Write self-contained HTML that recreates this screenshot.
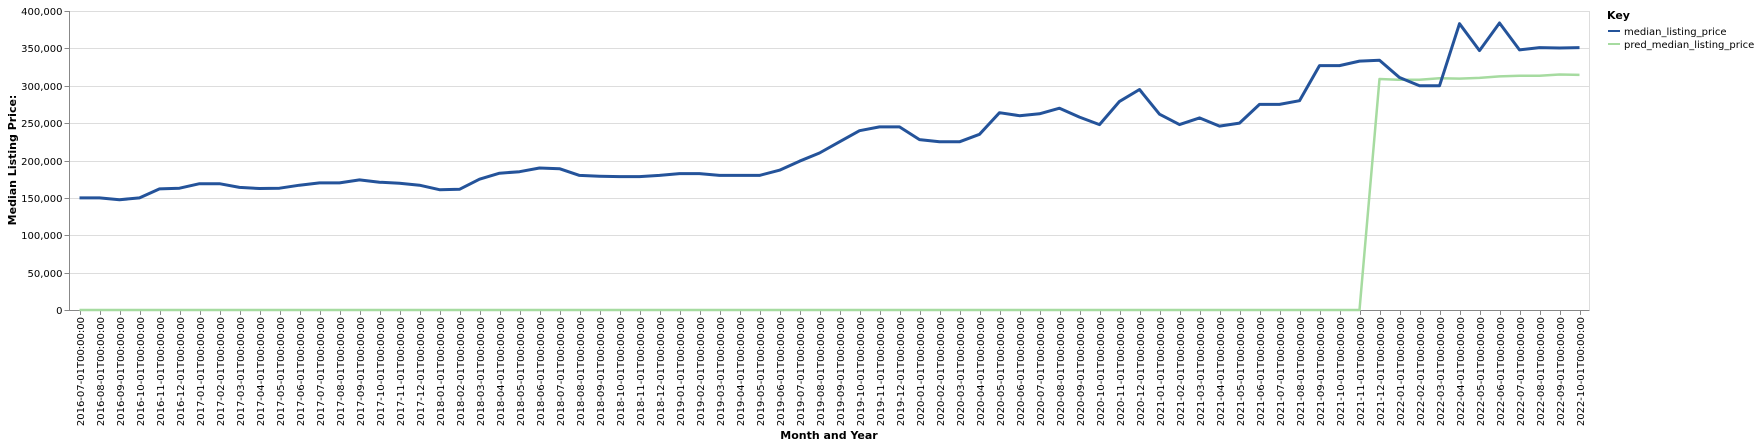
<!DOCTYPE html>
<html><head><meta charset="utf-8">
<style>
html,body{margin:0;padding:0;background:#fff;}
svg{display:block;font-family:"DejaVu Sans","Liberation Sans",sans-serif;}
</style></head>
<body>
<svg id="chart" width="1759" height="447" viewBox="0 0 1759 447" xmlns="http://www.w3.org/2000/svg">
<g id="grid"></g>
<g id="yaxis"></g>
<g id="xaxis"></g>
<g id="series"></g>
<text transform="translate(16,160) rotate(-90)" text-anchor="middle" font-size="11" font-weight="bold" fill="#000">Median Listing Price:</text>
<text x="829" y="439" text-anchor="middle" font-size="11" font-weight="bold" fill="#000">Month and Year</text>
<g>
<text x="1607" y="19" font-size="11" font-weight="bold" fill="#000">Key</text>
<g>
<line x1="1608" y1="31" x2="1620" y2="31" stroke="#24539a" stroke-width="2"/>
<text x="1624" y="35" font-size="10" fill="#000">median_listing_price</text></g>
<g>
<line x1="1608" y1="44" x2="1620" y2="44" stroke="#a6dba0" stroke-width="2"/>
<text x="1624" y="48" font-size="10" fill="#000">pred_median_listing_price</text></g>
</g>
</svg>
<script>
const months = [];
for (let y = 2016; y <= 2022; y++) for (let m = 1; m <= 12; m++) {
  if ((y === 2016 && m < 7) || (y === 2022 && m > 10)) continue;
  months.push(y + "-" + String(m).padStart(2, "0") + "-01T00:00:00");
}
const medianPrice = [150000,150000,147500,150000,162000,163000,
169000,169000,164000,162500,163000,167000,170000,170000,174000,171000,169500,167000,
161000,161500,175000,183000,185000,190000,189000,180000,179000,178500,178500,180000,
182500,182500,180000,180000,180000,187000,199000,210000,225000,239900,245000,244900,
228000,225000,225000,235000,264000,260000,262500,270000,258000,248000,279000,295000,
262000,248000,257000,246000,250000,275000,275000,280000,327000,327000,333000,334000,
311000,300000,300000,383000,347000,384000,348000,351000,350500,351000];
const predPrice = [0,0,0,0,0,0,
0,0,0,0,0,0,0,0,0,0,0,0,
0,0,0,0,0,0,0,0,0,0,0,0,
0,0,0,0,0,0,0,0,0,0,0,0,
0,0,0,0,0,0,0,0,0,0,0,0,
0,0,0,0,0,0,0,0,0,0,0,309000,
308000,308000,310000,309500,310500,312500,313500,313500,315000,314500];
const yTicks = [0,50000,100000,150000,200000,250000,300000,350000,400000];

const NS = "http://www.w3.org/2000/svg";
const L = 69.5, R = 1589.5, T = 11, B = 310;
const step = (R - L) / months.length;
const xs = i => L + step * (i + 0.5);
const ys = v => B - (v / 400000) * (B - T);
function mk(tag, attrs, parent) {
  const e = document.createElementNS(NS, tag);
  for (const k in attrs) e.setAttribute(k, attrs[k]);
  parent.appendChild(e); return e;
}
const grid = document.getElementById("grid"), yax = document.getElementById("yaxis"),
      xax = document.getElementById("xaxis"), ser = document.getElementById("series");
yTicks.forEach(v => {
  const y = Math.round(ys(v)) + 0.5;
  const g = mk("line", {x1: L, x2: R, y1: y, y2: y, stroke: "#ddd", "stroke-width": 1}, grid);
  
  
  mk("line", {x1: L - 5, x2: L, y1: y, y2: y, stroke: "#888"}, yax);
  const t = mk("text", {x: L - 7, y: y + 3.5, "text-anchor": "end", "font-size": 10, fill: "#000"}, yax);
  t.textContent = v.toLocaleString("en-US");
  
  
});
mk("line", {x1: L, x2: L, y1: T, y2: B, stroke: "#888"}, yax);
mk("line", {x1: R, x2: R, y1: T, y2: B, stroke: "#ddd"}, grid);
mk("line", {x1: L, x2: R, y1: B + 0.5, y2: B + 0.5, stroke: "#888"}, xax);
months.forEach((m, i) => {
  const x = Math.round(xs(i)) + 0.5;
  mk("line", {x1: x, x2: x, y1: B, y2: B + 5, stroke: "#888"}, xax);
  const t = mk("text", {transform: `translate(${x + 3.5},${B + 7}) rotate(-90)`, "text-anchor": "end", "font-size": 10, fill: "#000"}, xax);
  t.textContent = m;
  
  
});
function line(vals, color, w, name) {
  const d = vals.map((v, i) => (i ? "L" : "M") + xs(i).toFixed(1) + "," + ys(v).toFixed(1)).join("");
  const p = mk("path", {d: d, fill: "none", stroke: color, "stroke-width": w, "stroke-linejoin": "round"}, ser);
  
  
}
line(predPrice, "#a6dba0", 2.5, "pred-median-listing-price-line");
line(medianPrice, "#24539a", 3, "median-listing-price-line");
</script>
</body></html>
